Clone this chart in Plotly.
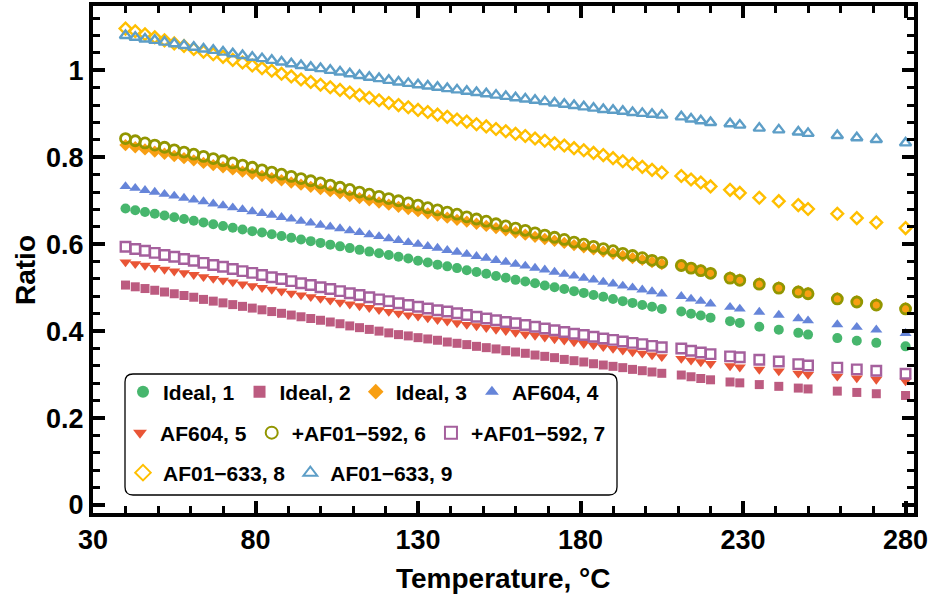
import plotly.graph_objects as go

temperature = [40, 43, 46, 49, 52, 55, 58, 61, 64, 67, 70, 73, 76, 79, 82, 85, 88, 91, 94, 97,
               100, 103, 106, 109, 112, 115, 118, 121, 124, 127, 130, 133, 136, 139, 142, 145,
               148, 151, 154, 157, 160, 163, 166, 169, 172, 175, 178, 181, 184, 187, 190, 193,
               196, 199, 202, 205, 211, 214, 217, 220, 226, 229, 235, 241, 247, 250, 259, 265,
               271, 280]

ideal_1 = [0.682, 0.678, 0.674, 0.670, 0.666, 0.662, 0.658, 0.654, 0.650, 0.646, 0.642, 0.638, 0.634,
           0.630, 0.627, 0.623, 0.619, 0.615, 0.611, 0.607, 0.603, 0.599, 0.595, 0.591, 0.587, 0.583,
           0.579, 0.575, 0.571, 0.567, 0.562, 0.558, 0.553, 0.549, 0.545, 0.540, 0.536, 0.532, 0.527,
           0.523, 0.518, 0.514, 0.510, 0.505, 0.501, 0.497, 0.492, 0.488, 0.483, 0.479, 0.474, 0.469,
           0.465, 0.460, 0.456, 0.451, 0.445, 0.440, 0.436, 0.431, 0.423, 0.419, 0.410, 0.403, 0.396,
           0.392, 0.384, 0.378, 0.373, 0.365]
ideal_2 = [0.506, 0.502, 0.498, 0.494, 0.490, 0.486, 0.482, 0.478, 0.473, 0.469, 0.465, 0.461, 0.457,
           0.453, 0.449, 0.445, 0.441, 0.437, 0.433, 0.429, 0.425, 0.421, 0.417, 0.412, 0.408, 0.404,
           0.400, 0.396, 0.392, 0.389, 0.385, 0.382, 0.379, 0.375, 0.372, 0.369, 0.365, 0.362, 0.359,
           0.355, 0.352, 0.349, 0.345, 0.342, 0.339, 0.335, 0.332, 0.329, 0.325, 0.322, 0.319, 0.316,
           0.312, 0.309, 0.306, 0.303, 0.299, 0.295, 0.291, 0.288, 0.283, 0.281, 0.277, 0.273, 0.269,
           0.267, 0.262, 0.259, 0.256, 0.252]
ideal_3 = [0.828, 0.823, 0.818, 0.813, 0.808, 0.803, 0.798, 0.793, 0.787, 0.782, 0.777, 0.772, 0.767,
           0.762, 0.757, 0.752, 0.747, 0.742, 0.737, 0.732, 0.727, 0.722, 0.717, 0.711, 0.706, 0.701,
           0.696, 0.691, 0.686, 0.681, 0.676, 0.671, 0.666, 0.661, 0.656, 0.652, 0.647, 0.642, 0.637,
           0.632, 0.627, 0.622, 0.617, 0.612, 0.608, 0.603, 0.598, 0.593, 0.588, 0.583, 0.578, 0.573,
           0.568, 0.564, 0.559, 0.554, 0.550, 0.545, 0.540, 0.534, 0.524, 0.519, 0.510, 0.501, 0.492,
           0.488, 0.476, 0.469, 0.462, 0.453]
af604_4 = [0.733, 0.729, 0.724, 0.720, 0.715, 0.711, 0.706, 0.702, 0.698, 0.693, 0.689, 0.684, 0.680,
           0.675, 0.671, 0.667, 0.662, 0.658, 0.653, 0.649, 0.644, 0.640, 0.636, 0.631, 0.627, 0.622,
           0.618, 0.613, 0.609, 0.604, 0.600, 0.595, 0.591, 0.586, 0.582, 0.577, 0.572, 0.568, 0.563,
           0.559, 0.554, 0.550, 0.545, 0.541, 0.536, 0.531, 0.527, 0.522, 0.518, 0.513, 0.509, 0.504,
           0.500, 0.495, 0.491, 0.486, 0.480, 0.474, 0.469, 0.463, 0.455, 0.451, 0.444, 0.437, 0.429,
           0.424, 0.415, 0.409, 0.403, 0.395]
af604_5 = [0.559, 0.555, 0.551, 0.546, 0.542, 0.538, 0.534, 0.530, 0.525, 0.521, 0.517, 0.513, 0.508,
           0.504, 0.500, 0.496, 0.492, 0.487, 0.483, 0.479, 0.475, 0.471, 0.466, 0.462, 0.458, 0.454,
           0.449, 0.445, 0.441, 0.437, 0.434, 0.430, 0.426, 0.423, 0.419, 0.415, 0.412, 0.408, 0.404,
           0.401, 0.397, 0.393, 0.390, 0.386, 0.382, 0.379, 0.375, 0.371, 0.368, 0.364, 0.360, 0.356,
           0.352, 0.349, 0.345, 0.341, 0.337, 0.333, 0.329, 0.325, 0.320, 0.317, 0.312, 0.308, 0.303,
           0.300, 0.296, 0.292, 0.289, 0.285]
af01_592_6 = [0.843, 0.838, 0.833, 0.828, 0.823, 0.817, 0.812, 0.807, 0.802, 0.797, 0.792, 0.787, 0.782,
              0.777, 0.771, 0.766, 0.761, 0.756, 0.751, 0.746, 0.741, 0.736, 0.731, 0.726, 0.720, 0.715,
              0.710, 0.705, 0.700, 0.695, 0.690, 0.684, 0.679, 0.674, 0.669, 0.663, 0.658, 0.653, 0.647,
              0.642, 0.637, 0.632, 0.626, 0.621, 0.616, 0.611, 0.605, 0.600, 0.595, 0.590, 0.585, 0.579,
              0.574, 0.569, 0.563, 0.558, 0.551, 0.545, 0.539, 0.533, 0.522, 0.517, 0.508, 0.499, 0.490,
              0.486, 0.474, 0.467, 0.460, 0.451]
af01_592_7 = [0.594, 0.589, 0.585, 0.580, 0.575, 0.571, 0.566, 0.562, 0.557, 0.552, 0.548, 0.543, 0.538,
              0.534, 0.529, 0.524, 0.520, 0.515, 0.510, 0.506, 0.501, 0.497, 0.492, 0.487, 0.483, 0.478,
              0.473, 0.469, 0.464, 0.460, 0.456, 0.452, 0.448, 0.445, 0.441, 0.437, 0.433, 0.429, 0.425,
              0.421, 0.418, 0.414, 0.410, 0.406, 0.402, 0.398, 0.394, 0.391, 0.387, 0.383, 0.380, 0.376,
              0.373, 0.370, 0.366, 0.363, 0.360, 0.355, 0.351, 0.347, 0.342, 0.340, 0.334, 0.330, 0.324,
              0.321, 0.316, 0.312, 0.309, 0.302]
af01_633_8 = [1.096, 1.090, 1.083, 1.076, 1.069, 1.062, 1.056, 1.049, 1.043, 1.037, 1.031, 1.024, 1.018,
              1.011, 1.005, 0.999, 0.992, 0.986, 0.979, 0.973, 0.967, 0.961, 0.955, 0.949, 0.943, 0.937,
              0.931, 0.925, 0.920, 0.915, 0.909, 0.904, 0.898, 0.893, 0.887, 0.882, 0.876, 0.871, 0.865,
              0.860, 0.854, 0.849, 0.843, 0.838, 0.832, 0.827, 0.821, 0.816, 0.810, 0.805, 0.798, 0.791,
              0.785, 0.778, 0.771, 0.765, 0.757, 0.749, 0.742, 0.733, 0.725, 0.718, 0.707, 0.699, 0.690,
              0.681, 0.670, 0.660, 0.650, 0.637]
af01_633_9 = [1.080, 1.076, 1.072, 1.069, 1.065, 1.061, 1.057, 1.053, 1.049, 1.046, 1.042, 1.038, 1.034,
              1.030, 1.027, 1.023, 1.019, 1.015, 1.011, 1.007, 1.004, 1.000, 0.996, 0.992, 0.988, 0.984,
              0.981, 0.977, 0.973, 0.970, 0.967, 0.964, 0.961, 0.958, 0.955, 0.952, 0.949, 0.946, 0.943,
              0.940, 0.937, 0.934, 0.931, 0.928, 0.925, 0.922, 0.919, 0.916, 0.913, 0.910, 0.908, 0.906,
              0.903, 0.901, 0.899, 0.897, 0.893, 0.888, 0.884, 0.880, 0.877, 0.874, 0.867, 0.863, 0.858,
              0.855, 0.850, 0.845, 0.841, 0.833]

series_names = ["Ideal, 1", "Ideal, 2", "Ideal, 3", "AF604, 4", "AF604, 5",
                "+AF01\u2212592, 6", "+AF01\u2212592, 7", "AF01\u2212633, 8", "AF01\u2212633, 9"]
series_values = [ideal_1, ideal_2, ideal_3, af604_4, af604_5, af01_592_6, af01_592_7,
                 af01_633_8, af01_633_9]

colors = ["#47B66D", "#BC5B80", "#F89F13", "#6685D9", "#E95536",
          "#929600", "#A5609D", "#FFBF00", "#5D9EC7"]
symbols = ["circle", "square", "diamond", "triangle-up", "triangle-down",
           "circle-open", "square-open", "diamond-open", "triangle-up-open"]
msizes = [10, 9, 9.5, 10.5, 10.5, 10, 9.5, 9, 10]
mlines = [0, 0, 0, 0, 0, 2.8, 2.4, 2.4, 2.4]
legend_rows = ["legend", "legend", "legend", "legend", "legend2", "legend2", "legend2",
               "legend3", "legend3"]

FONT = "Liberation Sans, Arial, sans-serif"

fig = go.Figure()
for name, vals, c, s, ms, lw, lg in zip(series_names, series_values, colors, symbols,
                                        msizes, mlines, legend_rows):
    fig.add_trace(go.Scatter(
        x=temperature, y=vals, mode="markers", name=name, legend=lg,
        marker=dict(symbol=s, size=ms, color=c, line=dict(width=lw, color=c)),
    ))

# plot area geometry (px)
L, R, T, B = 93, 19, 6, 86
W = 933 - L - R
H = 599 - T - B


def px_x(p):
    return (p - L) / W


def px_y(p):
    return (599 - B - p) / H


leg_common = dict(orientation="h", xanchor="left", yanchor="middle",
                  bgcolor="rgba(0,0,0,0)", borderwidth=0, itemsizing="constant",
                  font=dict(family=FONT, size=21, color="black", weight="bold"),
                  itemclick=False)

# rounded legend frame
bx0, bx1, by0, by1, rr = 125, 617, 374, 495, 8
x0, x1 = px_x(bx0), px_x(bx1)
ytop, ybot = px_y(by0), px_y(by1)
rx, ry = rr / W, rr / H
path = (f"M {x0 + rx} {ytop} L {x1 - rx} {ytop} Q {x1} {ytop} {x1} {ytop - ry} "
        f"L {x1} {ybot + ry} Q {x1} {ybot} {x1 - rx} {ybot} "
        f"L {x0 + rx} {ybot} Q {x0} {ybot} {x0} {ybot + ry} "
        f"L {x0} {ytop - ry} Q {x0} {ytop} {x0 + rx} {ytop} Z")

axis_common = dict(ticks="inside", ticklen=12, tickwidth=4, tickcolor="black",
                   showline=True, linewidth=4, linecolor="black", mirror="allticks",
                   showgrid=False, zeroline=False, automargin=False,
                   tickfont=dict(family=FONT, size=27, color="black", weight="bold"))

fig.update_layout(
    width=933, height=599,
    margin=dict(l=L, r=R, t=T, b=B),
    paper_bgcolor="white", plot_bgcolor="white",
    font=dict(family=FONT, color="black"),
    xaxis=dict(range=[30, 282.6], tickmode="linear", tick0=30, dtick=50,
               minor=dict(ticks="inside", tick0=30, dtick=10, ticklen=7, tickwidth=2.5,
                          tickcolor="black", showgrid=False),
               **axis_common),
    yaxis=dict(range=[-0.0184, 1.148], tickmode="linear", tick0=0, dtick=0.2,
               minor=dict(ticks="inside", tick0=0, dtick=0.04, ticklen=7, tickwidth=2.5,
                          tickcolor="black", showgrid=False),
               **axis_common),
    legend=dict(x=px_x(123), y=px_y(392), **leg_common),
    legend2=dict(x=px_x(120), y=px_y(433), **leg_common),
    legend3=dict(x=px_x(123), y=px_y(473), **leg_common),
    shapes=[dict(type="path", path=path, xref="paper", yref="paper",
                 line=dict(color="black", width=1.3), fillcolor="white", layer="below")],
    annotations=[
        dict(text="Temperature, °C", x=px_x(503), y=px_y(578), xref="paper", yref="paper",
             showarrow=False, xanchor="center", yanchor="middle",
             font=dict(family=FONT, size=28, color="black", weight="bold")),
        dict(text="Ratio", x=px_x(25), y=px_y(270), xref="paper", yref="paper",
             showarrow=False, xanchor="center", yanchor="middle", textangle=-90,
             font=dict(family=FONT, size=28, color="black", weight="bold")),
    ],
)

fig.write_html("out.html")
